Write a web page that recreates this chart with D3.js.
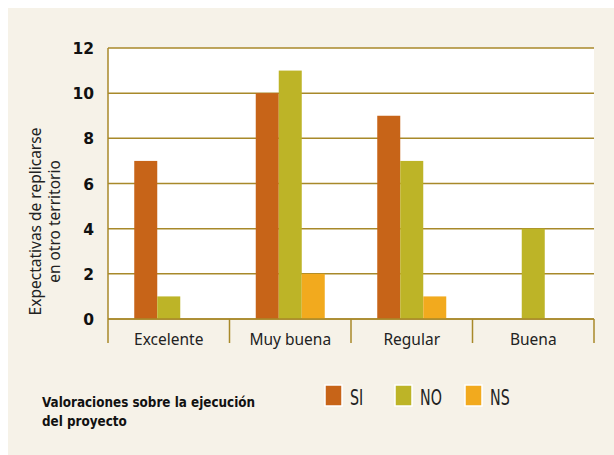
<!DOCTYPE html>
<html>
<head>
<meta charset="utf-8">
<script src="https://cdn.jsdelivr.net/npm/d3@7"></script>
<style>
body { margin: 0; background: #fff; }
svg text { font-family: 'DejaVu Sans', sans-serif; }
</style>
</head>
<body>
<div id="chart"></div>
<script>
const categories = ['Excelente', 'Muy buena', 'Regular', 'Buena'];
const seriesKeys = ['SI', 'NO', 'NS'];
const siValues = [7, 10, 9, 0];
const noValues = [1, 11, 7, 4];
const nsValues = [0, 2, 1, 0];
const yTicks = [0, 2, 4, 6, 8, 10, 12];

const colors = { 'SI': '#c76418', 'NO': '#bdb427', 'NS': '#f2aa1e' };
const values = { 'SI': siValues, 'NO': noValues, 'NS': nsValues };

let svgWidth = 614, svgHeight = 455;
let padding = { left: 108, right: 20, top: 48, bottom: 136 };

let svg = d3.select('#chart').append('svg')
	.attr('width', svgWidth)
	.attr('height', svgHeight);

svg.append('rect')
	.attr('x', 8).attr('y', 8)
	.attr('width', svgWidth - 8).attr('height', svgHeight - 8)
	.attr('fill', '#f6f2e8');

let x = d3.scaleBand()
	.domain(categories)
	.range([padding.left, svgWidth - padding.right]);

let x1 = d3.scaleBand()
	.domain(seriesKeys)
	.range([0, 69]);

let y = d3.scaleLinear()
	.domain([0, 12])
	.range([svgHeight - padding.bottom, padding.top]);

const x0 = padding.left, xEnd = svgWidth - padding.right;
const yZero = y(0), yBottom = yZero + 24;
const gold = '#a8892a';

// white plot area
svg.append('rect')
	.attr('x', x0).attr('y', y(12))
	.attr('width', xEnd - x0).attr('height', yZero - y(12))
	.attr('fill', 'white');

// grid lines
svg.selectAll('line.grid')
	.data(yTicks)
	.enter()
	.append('line')
	.classed('grid', true)
	.attr('x1', x0).attr('x2', xEnd)
	.attr('y1', d => y(d)).attr('y2', d => y(d))
	.attr('stroke', gold)
	.attr('stroke-width', 1.5);

// y tick labels
svg.selectAll('text.ytick')
	.data(yTicks)
	.enter()
	.append('text')
	.classed('ytick', true)
	.attr('x', 94)
	.attr('y', d => y(d) + 6)
	.attr('text-anchor', 'end')
	.attr('font-size', '15.5px')
	.attr('font-weight', 'bold')
	.attr('fill', '#111')
	.text(d => d);

// left axis and category separators
svg.append('line')
	.attr('x1', x0).attr('x2', x0)
	.attr('y1', y(12)).attr('y2', yBottom)
	.attr('stroke', gold).attr('stroke-width', 1.5);

let bounds = categories.map(c => x(c) + x.bandwidth());
svg.selectAll('line.sep')
	.data(bounds)
	.enter()
	.append('line')
	.classed('sep', true)
	.attr('x1', d => d).attr('x2', d => d)
	.attr('y1', yZero).attr('y2', yBottom)
	.attr('stroke', gold).attr('stroke-width', 1.5);

// bars
let groups = svg.selectAll('g.cat')
	.data(categories)
	.enter()
	.append('g')
	.classed('cat', true)
	.attr('transform', d => `translate(${x(d) + (x.bandwidth() - 69) / 2}, 0)`);

groups.selectAll('rect')
	.data((d, i) => seriesKeys.map(k => ({ key: k, value: values[k][i] })))
	.enter()
	.append('rect')
	.attr('x', d => x1(d.key))
	.attr('width', x1.bandwidth())
	.attr('y', d => y(d.value))
	.attr('height', d => yZero - y(d.value))
	.attr('fill', d => colors[d.key]);

// baseline over bars
svg.append('line')
	.attr('x1', x0).attr('x2', xEnd)
	.attr('y1', yZero).attr('y2', yZero)
	.attr('stroke', gold).attr('stroke-width', 1.5);

// category labels
svg.selectAll('text.cat')
	.data(categories)
	.enter()
	.append('text')
	.classed('cat', true)
	.attr('x', d => x(d) + x.bandwidth() / 2)
	.attr('y', yZero + 26)
	.attr('text-anchor', 'middle')
	.attr('font-size', '15.5px')
	.style('font-family', "'Noto Sans', sans-serif")
	.attr('fill', '#222')
	.text(d => d);

// y axis title
let yTitle = svg.append('text')
	.attr('transform', `translate(41, ${(y(12) + yZero) / 2 + 38}) rotate(-90)`)
	.attr('text-anchor', 'middle')
	.attr('font-size', '15.5px')
	.style('font-family', "'Noto Sans', sans-serif")
	.attr('fill', '#222');
yTitle.append('tspan').attr('x', 0).attr('dy', 0).text('Expectativas de replicarse');
yTitle.append('tspan').attr('x', 0).attr('dy', 19).text('en otro territorio');

// bottom title
let xTitle = svg.append('text')
	.attr('transform', 'translate(42, 407) scale(0.92, 1)')
	.attr('font-size', '14.5px')
	.attr('font-weight', 'bold')
	.style('font-family', "'DejaVu Sans Condensed', 'DejaVu Sans', sans-serif")
	.attr('fill', '#111');
xTitle.append('tspan').attr('x', 0).text('Valoraciones sobre la ejecución');
xTitle.append('tspan').attr('x', 0).attr('dy', 19).text('del proyecto');

// legend
let legend = svg.selectAll('g.legend')
	.data(seriesKeys)
	.enter()
	.append('g')
	.classed('legend', true)
	.attr('transform', (d, i) => `translate(${325 + i * 70}, 385)`);

legend.append('rect')
	.attr('x', 0).attr('y', 0)
	.attr('width', 17).attr('height', 21)
	.attr('fill', d => colors[d])
	.attr('stroke', 'white')
	.attr('stroke-width', 1.5);

legend.append('text')
	.attr('transform', 'translate(25, 20) scale(0.72, 1)')
	.attr('font-size', '22px')
	.style('font-family', "'DejaVu Sans Condensed', 'DejaVu Sans', sans-serif")
	.attr('fill', '#222')
	.text(d => d);
</script>
</body>
</html>
